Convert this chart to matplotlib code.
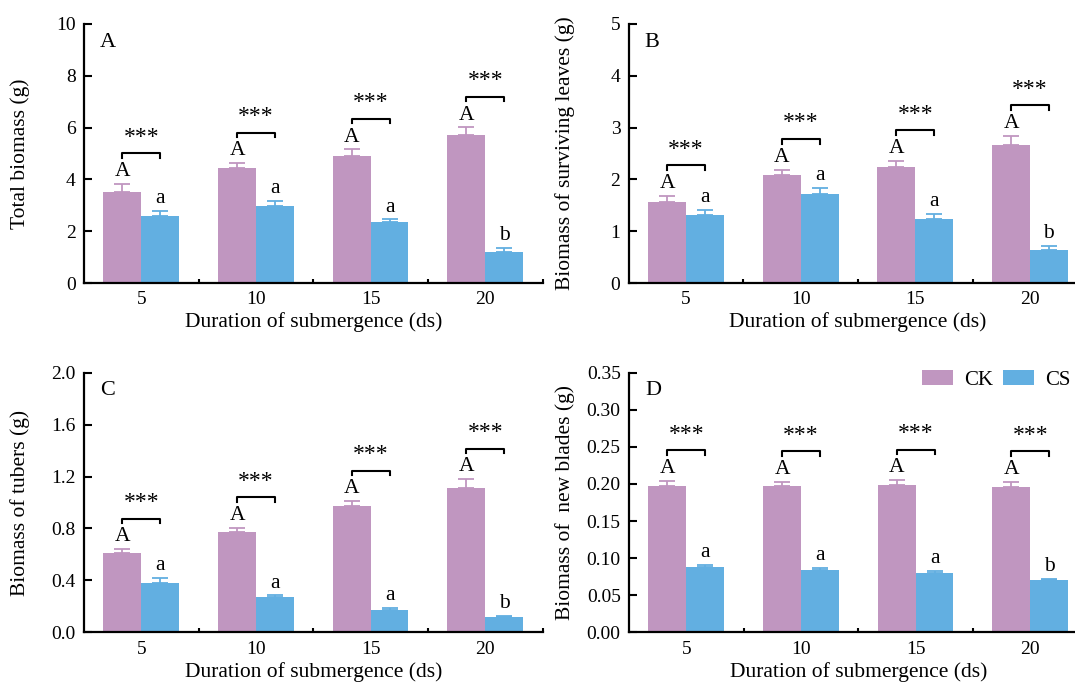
import numpy as np
import matplotlib
matplotlib.use("Agg")
import matplotlib.pyplot as plt
from matplotlib.ticker import MultipleLocator, FixedLocator

plt.rcParams['font.family'] = ['Liberation Serif', 'DejaVu Serif']

days = ['5', '10', '15', '20']

# panel A - total biomass
ck_total = [3.53, 4.44, 4.90, 5.71]
ck_total_err = [0.30, 0.19, 0.26, 0.30]
cs_total = [2.59, 2.98, 2.35, 1.21]
cs_total_err = [0.18, 0.19, 0.11, 0.14]

# panel B - surviving leaves
ck_leaves = [1.56, 2.09, 2.24, 2.66]
ck_leaves_err = [0.12, 0.10, 0.12, 0.18]
cs_leaves = [1.32, 1.72, 1.24, 0.63]
cs_leaves_err = [0.09, 0.12, 0.10, 0.08]

# panel C - tubers
ck_tubers = [0.61, 0.77, 0.97, 1.11]
ck_tubers_err = [0.03, 0.035, 0.04, 0.07]
cs_tubers = [0.38, 0.27, 0.175, 0.115]
cs_tubers_err = [0.04, 0.015, 0.012, 0.012]

# panel D - new blades
ck_blades = [0.197, 0.197, 0.198, 0.196]
ck_blades_err = [0.007, 0.006, 0.007, 0.007]
cs_blades = [0.088, 0.084, 0.080, 0.070]
cs_blades_err = [0.003, 0.003, 0.003, 0.002]

ck_letters = ['A', 'A', 'A', 'A']
cs_letters = ['a', 'a', 'a', 'b']
signif = ['***', '***', '***', '***']

ck_color = '#C096C0'
cs_color = '#62AFE1'

W, H = 1075, 684
fig = plt.figure(figsize=(W / 100, H / 100), dpi=100)


def make_ax(left, top, bottom, width=458.6):
    return fig.add_axes([left / W, 1 - bottom / H, width / W, (bottom - top) / H])


panels = [
    (make_ax(84, 24, 283), 'A', 'Total biomass (g)', ck_total, ck_total_err, cs_total, cs_total_err, 10, 2, '%d'),
    (make_ax(628.7, 24, 283), 'B', 'Biomass of surviving leaves (g)', ck_leaves, ck_leaves_err, cs_leaves, cs_leaves_err, 5, 1, '%d'),
    (make_ax(84, 372.7, 632.3), 'C', 'Biomass of tubers (g)', ck_tubers, ck_tubers_err, cs_tubers, cs_tubers_err, 2.0, 0.4, '%.1f'),
    (make_ax(629, 372.7, 632.3), 'D', 'Biomass of  new blades (g)', ck_blades, ck_blades_err, cs_blades, cs_blades_err, 0.35, 0.05, '%.2f'),
]

x = np.arange(1, len(days) + 1)
bw = 0.33

for ax, tag, ylab, ck, ckerr, cs, cserr, ymax, ystep, fmt in panels:
    ax.bar(x - bw / 2, ck, bw, color=ck_color, label='CK', zorder=2)
    ax.bar(x + bw / 2, cs, bw, color=cs_color, label='CS', zorder=2)
    ax.errorbar(x - bw / 2, ck, yerr=[np.zeros(4), ckerr], fmt='none', ecolor=ck_color,
                elinewidth=1.3, capsize=5.5, capthick=1.3, zorder=3)
    ax.errorbar(x + bw / 2, cs, yerr=[np.zeros(4), cserr], fmt='none', ecolor=cs_color,
                elinewidth=1.3, capsize=5.5, capthick=1.3, zorder=3)

    for i in range(4):
        top_ck = ck[i] + ckerr[i]
        top_cs = cs[i] + cserr[i]
        ax.annotate(ck_letters[i], (x[i] - bw / 2, top_ck), xytext=(0, 2), textcoords='offset points',
                    ha='center', va='bottom', fontsize=15.5)
        ax.annotate(cs_letters[i], (x[i] + bw / 2, top_cs), xytext=(0, 2), textcoords='offset points',
                    ha='center', va='bottom', fontsize=15.5)
        yb = top_ck + 0.118 * ymax
        leg = 0.018 * ymax
        ax.plot([x[i] - bw / 2, x[i] - bw / 2, x[i] + bw / 2, x[i] + bw / 2],
                [yb - leg, yb, yb, yb - leg], color='black', lw=1.5, zorder=3)
        ax.annotate(signif[i], (x[i], yb), xytext=(0, 4), textcoords='offset points',
                    ha='center', va='bottom', fontsize=17)

    ax.set_xlim(0.5, 4.5)
    ax.set_ylim(0, ymax)
    ax.yaxis.set_major_locator(MultipleLocator(ystep))
    ax.yaxis.set_major_formatter(plt.FormatStrFormatter(fmt))
    ax.set_xticks(x)
    ax.set_xticklabels(days)
    ax.xaxis.set_minor_locator(FixedLocator([1.5, 2.5, 3.5, 4.5]))
    ax.tick_params(axis='x', which='major', length=0, pad=6, labelsize=14)
    ax.tick_params(axis='x', which='minor', direction='in', length=3, width=1.5)
    ax.tick_params(axis='y', which='major', direction='in', length=6, width=1.5, pad=6, labelsize=14)
    for s in ['top', 'right']:
        ax.spines[s].set_visible(False)
    for s in ['left', 'bottom']:
        ax.spines[s].set_linewidth(1.6)
    ax.set_xlabel('Duration of submergence (ds)', fontsize=15.5, labelpad=3)
    ax.set_ylabel(ylab, fontsize=15.5)
    ax.yaxis.set_label_coords(-0.117, 0.5)
    ax.text(0.035, 0.93, tag, transform=ax.transAxes, fontsize=16, ha='left', va='center')

ax_d = panels[3][0]
ax_d.legend(loc='upper left', bbox_to_anchor=(922 / W, 1 - 370 / H), bbox_transform=fig.transFigure,
            ncol=2, frameon=False, fontsize=15, handlelength=1.5, handleheight=0.75,
            handletextpad=0.5, columnspacing=0.5, borderaxespad=0, borderpad=0)

fig.savefig('out.png', dpi=100)
